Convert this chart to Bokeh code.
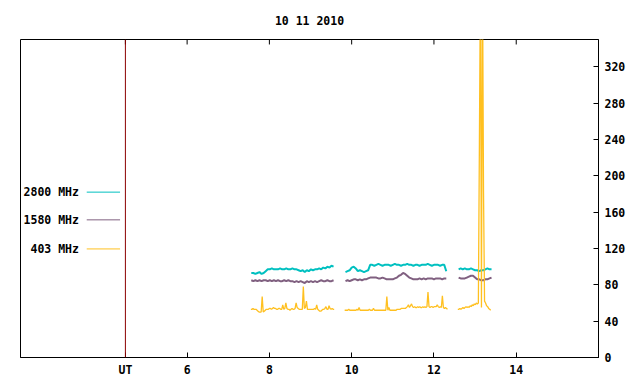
import numpy as np
from bokeh.plotting import figure
from bokeh.models import FixedTicker, Span, Label, Range1d
from bokeh.embed import file_html
from bokeh.resources import INLINE

# ---------------- data ----------------
title_text = "10 11 2010"
series_names = ["2800 MHz", "1580 MHz", "403 MHz"]
series_colors = ["#00c0c0", "#806080", "#ffc020"]

xtick_vals = [4.5, 6, 8, 10, 12, 14]
xtick_labels = ["UT", "6", "8", "10", "12", "14"]
ytick_vals = [0, 40, 80, 120, 160, 200, 240, 280, 320]
ut_time = 4.5
x_lo, x_hi = 1.95, 16.0
y_lo, y_hi = 0, 350

# 2800 / 1580 MHz: segments start (UT hours), sample step 0.05 h
cp_starts = [7.56, 9.85, 12.60]
cp_step = 0.05
cyan_seg1 = [93, 93, 92, 93, 94, 92, 93, 95, 97, 97, 98, 97, 97, 97, 98, 97, 97, 98, 97, 97,
             98, 97, 97, 96, 95, 96, 94, 96, 95, 97, 96, 97, 97, 98, 97, 99, 98, 100, 99, 101, 100]
cyan_seg2 = [94, 95, 96, 99, 100, 98, 95, 96, 95, 94, 95, 96, 102, 102, 101, 102, 103, 102, 101, 102,
             102, 102, 101, 102, 103, 102, 102, 101, 102, 102, 103, 102, 102, 101, 102, 102, 101, 102, 102, 102,
             103, 102, 101, 102, 102, 102, 101, 102, 102, 95]
cyan_seg3 = [97, 98, 97, 98, 97, 97, 98, 97, 96, 96, 95, 96, 96, 97, 98, 97, 97]

purple_seg1 = [85, 84, 85, 84, 85, 84, 85, 85, 84, 85, 84, 85, 84, 85, 84, 84, 85, 84, 85, 84,
               84, 83, 84, 83, 84, 83, 82, 84, 83, 84, 83, 84, 83, 84, 85, 84, 84, 85, 84, 84, 85]
purple_seg2 = [84, 85, 84, 85, 86, 86, 85, 86, 85, 86, 86, 87, 88, 88, 88, 88, 87, 87, 88, 87,
               86, 86, 86, 86, 87, 88, 90, 91, 93, 92, 90, 88, 87, 86, 86, 86, 87, 86, 87, 86,
               87, 87, 87, 86, 87, 87, 87, 86, 87, 87]
purple_seg3 = [88, 87, 87, 87, 88, 89, 90, 90, 88, 86, 86, 85, 85, 86, 86, 87, 88]

# 403 MHz: segment starts, sample step 0.025 h
gold_starts = [7.55, 9.83, 12.58]
gold_step = 0.025
gold_seg1 = [53, 53, 54, 53, 53, 53, 52, 51,
             50, 50, 50, 67, 50,
             51, 52, 53, 53, 53, 54, 54, 53,
             54, 55, 54, 54, 53, 53, 54, 54, 53, 53,
             58, 53, 54, 60, 54, 53, 53, 52, 53, 54,
             53, 53, 54, 60, 55, 54, 53, 53, 53, 53,
             78, 54, 55, 62, 53, 53, 53, 53, 53, 53,
             53, 54, 53, 58, 53, 52, 51, 51, 52, 53,
             53, 54, 56, 53, 53, 57, 54, 53, 54, 53, 53]
gold_seg2 = [52, 52, 52, 52, 53, 52, 52, 52, 52, 52,
             52, 52, 53, 52, 55, 52, 52, 52, 52, 52,
             52, 52, 52, 52, 53, 52, 52, 52, 54, 52,
             52, 52, 52, 52, 52, 52, 52, 52, 52, 52,
             52, 67, 52, 55, 52, 52, 52, 52, 52, 52,
             52, 53, 53, 53, 53, 54, 54, 54, 54, 54,
             55, 56, 58, 55, 57, 59, 56, 55, 56, 55,
             55, 56, 55, 56, 55, 55, 56, 55, 56, 55,
             56, 72, 56, 55, 56, 56, 55, 56, 56, 56,
             58, 56, 55, 56, 55, 68, 55, 54, 55, 54, 53]
gold_seg3 = [53, 53, 54, 53, 54, 55, 54, 55, 56, 55,
             56, 55, 57, 56, 58, 57, 59, 58, 60, 59,
             60, 235, 420, 55, 420, 183, 62, 60, 57, 56,
             54, 53, 52]


def build(starts, step, segs):
    xs, ys = [], []
    for k, (s, seg) in enumerate(zip(starts, segs)):
        if k:
            xs.append(np.nan)
            ys.append(np.nan)
        xs.extend(list(s + step * np.arange(len(seg))))
        ys.extend(seg)
    return xs, ys


cyan_x, cyan_y = build(cp_starts, cp_step, [cyan_seg1, cyan_seg2, cyan_seg3])
purp_x, purp_y = build(cp_starts, cp_step, [purple_seg1, purple_seg2, purple_seg3])
gold_x, gold_y = build(gold_starts, gold_step, [gold_seg1, gold_seg2, gold_seg3])

# ---------------- figure ----------------
FONT = "DejaVu Sans Mono"
FS = "11.5px"

p = figure(width=636, height=380, output_backend="svg", toolbar_location=None,
           x_range=Range1d(x_lo, x_hi), y_range=Range1d(y_lo, y_hi),
           y_axis_location="right",
           min_border_left=20, min_border_right=38, min_border_top=38, min_border_bottom=23)

p.title.text = title_text
p.title.align = "center"
p.title.text_font = FONT
p.title.text_font_size = FS
p.title.text_font_style = "bold"
p.title.text_color = "black"
p.title.standoff = 23

p.grid.visible = False
p.outline_line_color = "black"
p.outline_line_width = 1
p.background_fill_color = "white"
p.border_fill_color = "white"

labels = {v: l for v, l in zip(xtick_vals, xtick_labels)}

for ax in p.xaxis:
    ax.ticker = FixedTicker(ticks=xtick_vals)
    ax.major_label_overrides = labels
    ax.major_tick_in = 5
    ax.major_tick_out = 0
    ax.minor_tick_in = 0
    ax.minor_tick_out = 0
    ax.major_label_standoff = 5
    ax.major_label_text_font = FONT
    ax.major_label_text_font_size = FS
    ax.major_label_text_font_style = "bold"
    ax.major_label_text_color = "black"
    ax.axis_line_color = "black"
    ax.major_tick_line_color = "black"

for ax in p.yaxis:
    ax.ticker = FixedTicker(ticks=ytick_vals)
    ax.major_tick_in = 5
    ax.major_tick_out = 0
    ax.minor_tick_in = 0
    ax.minor_tick_out = 0
    ax.major_label_standoff = 6
    ax.major_label_text_font = FONT
    ax.major_label_text_font_size = FS
    ax.major_label_text_font_style = "bold"
    ax.major_label_text_color = "black"
    ax.axis_line_color = "black"

# mirrored tick marks on the top border
tick_len = 5 * (y_hi - y_lo) / 319.0
p.segment(x0=xtick_vals, y0=[y_hi] * len(xtick_vals), x1=xtick_vals,
          y1=[y_hi - tick_len] * len(xtick_vals), line_color="black", line_width=1)

p.add_layout(Span(location=ut_time, dimension="height", line_color="#8b0000", line_width=1))

p.line(cyan_x, cyan_y, line_color=series_colors[0], line_width=2)
p.line(purp_x, purp_y, line_color=series_colors[1], line_width=2)
p.line(gold_x, gold_y, line_color=series_colors[2], line_width=1.3)

# legend (label left of sample line, as in the original)
leg_y = [182, 151.5, 119.5]
for name, col, yy in zip(series_names, series_colors, leg_y):
    p.segment(x0=[3.56], y0=[yy], x1=[4.37], y1=[yy], line_color=col, line_width=1)
    p.add_layout(Label(x=3.37, y=yy, text=name, text_align="right", text_baseline="middle",
                       text_font=FONT, text_font_size=FS, text_font_style="bold",
                       text_color="black"))

open("out.html", "w").write(file_html(p, INLINE))
